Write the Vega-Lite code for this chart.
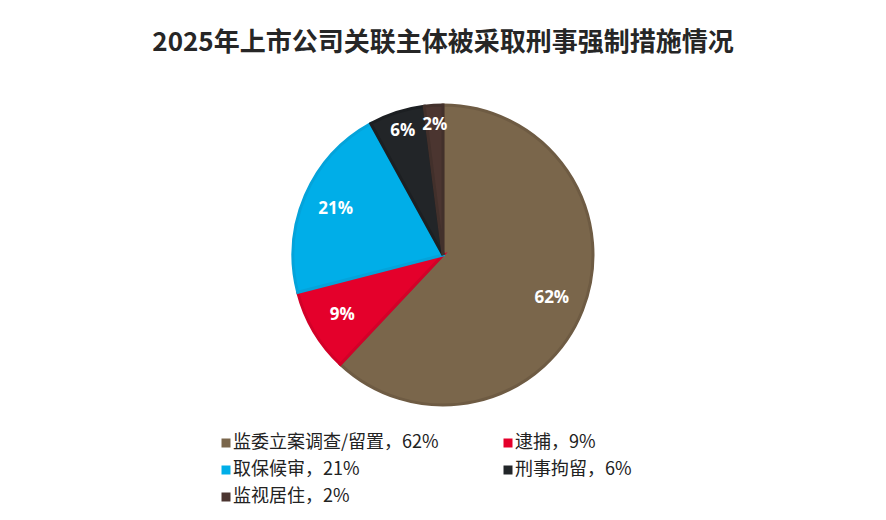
{
  "$schema": "https://vega.github.io/schema/vega-lite/v6.json",
  "width": 886,
  "height": 396,
  "padding": {"left": 0, "right": 0, "top": 30, "bottom": 0},
  "background": "white",
  "title": {
    "text": "2025年上市公司关联主体被采取刑事强制措施情况",
    "fontSize": 26,
    "fontWeight": "bold",
    "font": "Noto Sans CJK SC",
    "color": "#262626",
    "anchor": "middle",
    "offset": 1
  },
  "data": {
    "values": [
      {"idx": 1, "category": "监委立案调查/留置", "label": "监委立案调查/留置，62%", "value": 62, "pct": "62%"},
      {"idx": 2, "category": "逮捕", "label": "逮捕，9%", "value": 9, "pct": "9%"},
      {"idx": 3, "category": "取保候审", "label": "取保候审，21%", "value": 21, "pct": "21%"},
      {"idx": 4, "category": "刑事拘留", "label": "刑事拘留，6%", "value": 6, "pct": "6%"},
      {"idx": 5, "category": "监视居住", "label": "监视居住，2%", "value": 2, "pct": "2%"}
    ]
  },
  "encoding": {
    "theta": {"field": "value", "type": "quantitative", "stack": true},
    "order": {"field": "idx", "type": "quantitative"}
  },
  "layer": [
    {
      "mark": {"type": "arc", "outerRadius": 150, "strokeWidth": 3, "strokeJoin": "miter"},
      "encoding": {
        "color": {
          "field": "label",
          "type": "nominal",
          "sort": {"field": "idx"},
          "scale": {
            "domain": ["监委立案调查/留置，62%", "逮捕，9%", "取保候审，21%", "刑事拘留，6%", "监视居住，2%"],
            "range": ["#7a664b", "#e4002b", "#00aee8", "#222528", "#4b3530"]
          },
          "legend": {
            "orient": "none",
            "legendX": 217,
            "legendY": 377,
            "direction": "horizontal",
            "columns": 2,
            "columnPadding": 60,
            "rowPadding": 9,
            "padding": 0,
            "title": null,
            "symbolType": "square",
            "symbolSize": 81,
            "symbolStrokeWidth": 0,
            "labelFontSize": 18,
            "labelFont": "Noto Sans CJK SC",
            "labelColor": "#222222",
            "labelOffset": -2,
            "labelLimit": 400
          }
        },
        "stroke": {
          "field": "label",
          "type": "nominal",
          "scale": {
            "domain": ["监委立案调查/留置，62%", "逮捕，9%", "取保候审，21%", "刑事拘留，6%", "监视居住，2%"],
            "range": ["#6e5b43", "#d30028", "#04a3da", "#1c1f22", "#42302b"]
          },
          "legend": null
        }
      }
    },
    {
      "mark": {"type": "text", "radius": 117, "fontSize": 17, "fontWeight": "bold", "font": "Open Sans", "color": "white"},
      "encoding": {
        "text": {"condition": {"test": "datum.value >= 8", "field": "pct"}, "value": ""}
      }
    },
    {
      "mark": {"type": "text", "radius": 130, "fontSize": 17, "fontWeight": "bold", "font": "Open Sans", "color": "white"},
      "encoding": {
        "text": {"condition": {"test": "datum.value < 8", "field": "pct"}, "value": ""}
      }
    }
  ],
  "config": {"view": {"stroke": null}}
}
